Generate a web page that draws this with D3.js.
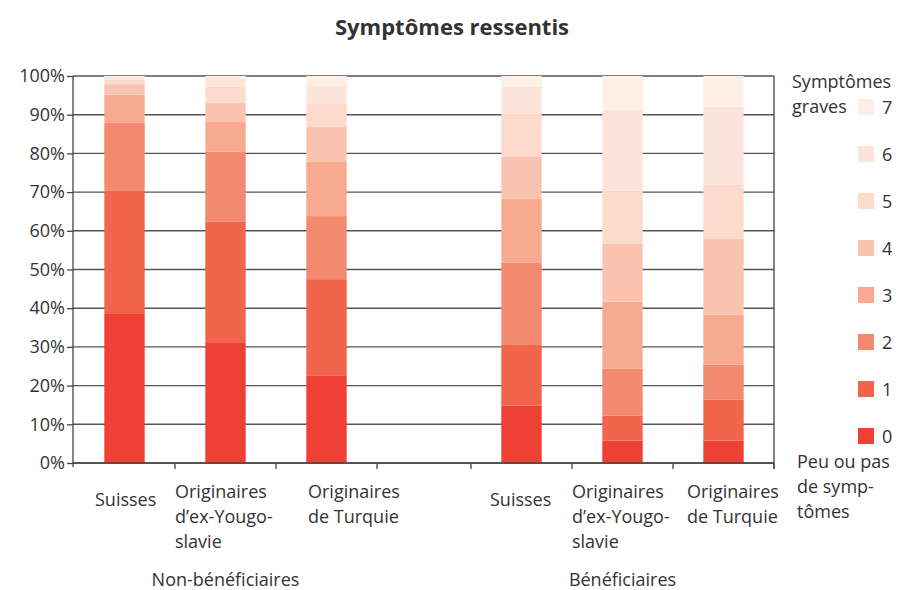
<!DOCTYPE html>
<html><head><meta charset="utf-8">
<script src="https://cdn.jsdelivr.net/npm/d3@7"></script>
<style>
body{margin:0;background:#fff;}
text{font-family:"Open Sans",sans-serif;fill:#333;}
</style>
</head><body>
<svg id="chart" width="912" height="590"></svg>
<script>
// ---- data ----
const groups = ["Non-bénéficiaires","Bénéficiaires"];
const barsNB = ["NB-Suisses","NB-Yougo","NB-Turquie"];
const barsB = ["B-Suisses","B-Yougo","B-Turquie"];
const bars = barsNB.concat(barsB);
const barLabels = [["Suisses"],["Originaires","d’ex-Yougo-","slavie"],["Originaires","de Turquie"],
                   ["Suisses"],["Originaires","d’ex-Yougo-","slavie"],["Originaires","de Turquie"]];
const groupCenters = ["NB-Yougo","B-Yougo"];
const levels = ["0","1","2","3","4","5","6","7"];
const level0 = [38.5, 31.0, 22.5, 14.8,  5.8,  5.8];
const level1 = [31.8, 31.3, 25.0, 15.7,  6.4, 10.6];
const level2 = [17.6, 18.1, 16.3, 21.3, 12.2,  9.0];
const level3 = [ 7.3,  7.7, 14.0, 16.4, 17.3, 12.9];
const level4 = [ 2.7,  4.9,  9.0, 10.9, 15.0, 19.7];
const level5 = [ 1.2,  4.2,  6.0, 11.2, 13.7, 13.9];
const level6 = [ 0.6,  2.3,  4.6,  6.9, 20.9, 20.2];
const level7 = [ 0.3,  0.5,  2.6,  2.8,  8.7,  7.9];
const yTicks = [0,10,20,30,40,50,60,70,80,90,100];
const colors = ["#ee4035","#f0654c","#f3896e","#f8aa90","#fac4b1","#fcdacc","#fde4da","#fdefe6"];
const title = "Symptômes ressentis";
const legendTop = ["Symptômes","graves"];
const legendBottom = ["Peu ou pas","de symp-","tômes"];

// ---- build ----
const series = [level0,level1,level2,level3,level4,level5,level6,level7];
const table = bars.map((b,i)=>{const o={bar:b}; levels.forEach((l,j)=>o[l]=series[j][i]); return o;});
const stacked = d3.stack().keys(levels)(table);

const svg = d3.select("#chart");
const L = 73, R = 774, T = 76, B = 463;
const xNB = d3.scaleBand().domain(barsNB).range([74,377]).paddingInner(0.6).paddingOuter(0.3);
const xB  = d3.scaleBand().domain(barsB).range([471,774]).paddingInner(0.6).paddingOuter(0.3);
const x = b => barsNB.includes(b) ? xNB(b) : xB(b);
const bw = xNB.bandwidth();
const y = d3.scaleLinear().domain([0,100]).range([B,T]);
const color = d3.scaleOrdinal().domain(levels).range(colors);

// gridlines
svg.append("g").selectAll("line").data(yTicks).join("line")
  .attr("x1",L).attr("x2",R).attr("y1",d=>y(d)).attr("y2",d=>y(d))
  .attr("stroke","#555").attr("stroke-width",1.4);

// bars
svg.append("g").selectAll("g").data(stacked).join("g")
  .attr("fill",d=>color(d.key))
  .selectAll("rect").data(d=>d).join("rect")
  .attr("x",d=>x(d.data.bar)).attr("width",bw)
  .attr("y",d=>y(d[1])).attr("height",d=>y(d[0])-y(d[1]));

// left axis
const yAxis = d3.axisLeft(y).tickValues(yTicks).tickFormat(d=>d+"%").tickSize(6).tickPadding(2);
const gy = svg.append("g").attr("transform",`translate(${L},0)`).call(yAxis);
gy.select(".domain").attr("stroke","#444").attr("stroke-width",1.3).attr("d",`M0,${T}V${B+4}`);
gy.selectAll(".tick line").attr("stroke","#444").attr("stroke-width",1.3);
gy.selectAll(".tick text").attr("font-size",18).attr("font-family","Open Sans").attr("fill","#333");

// bottom axis ticks at slot boundaries
const bounds = [];
[xNB,xB].forEach(s=>{const r=s.range(); d3.range(s.domain().length+1).forEach(i=>bounds.push(r[0]+i*s.step()));});
svg.append("line").attr("x1",L).attr("x2",R).attr("y1",B).attr("y2",B).attr("stroke","#444").attr("stroke-width",1.3);
svg.append("g").selectAll("line").data(bounds.slice(1)).join("line")
  .attr("x1",d=>d).attr("x2",d=>d).attr("y1",B).attr("y2",B+6).attr("stroke","#444").attr("stroke-width",1.3);
// right border
svg.append("line").attr("x1",R).attr("x2",R).attr("y1",T).attr("y2",B+6).attr("stroke","#444").attr("stroke-width",1.3);

// category labels
const labelDx = [-29.5,-50.5,-18.5,-31.5,-50.5,-36.5];
bars.forEach((b,i)=>{
  const lines = barLabels[i];
  const cx = x(b)+bw/2 + labelDx[i];
  const base = lines.length===1 ? 506 : 498;
  const t = svg.append("text").attr("font-size",18);
  lines.forEach((ln,k)=>t.append("tspan").attr("x",cx).attr("y",base+k*25).text(ln));
});
// group labels
groups.forEach((g,i)=>{
  svg.append("text").attr("x",x(groupCenters[i])+bw/2).attr("y",586)
    .attr("text-anchor","middle").attr("font-size",18).text(g);
});

// title
svg.append("text").attr("x",452).attr("y",35).attr("text-anchor","middle")
  .attr("font-size",22).attr("font-weight","bold").text(title);

// legend
const ly = d3.scaleLinear().domain([0,7]).range([436,107]);
const lg = svg.append("g");
lg.selectAll("rect").data(levels).join("rect")
  .attr("x",858).attr("y",d=>ly(+d)-8).attr("width",16).attr("height",16).attr("fill",d=>color(d));
lg.selectAll("text").data(levels).join("text")
  .attr("x",882).attr("y",d=>ly(+d)+6.5).attr("font-size",18).text(d=>d);
legendTop.forEach((t,k)=>svg.append("text").attr("x",792).attr("y",88+k*25).attr("font-size",18).text(t));
legendBottom.forEach((t,k)=>svg.append("text").attr("x",797).attr("y",468+k*25).attr("font-size",18).text(t));
</script>
</body></html>
